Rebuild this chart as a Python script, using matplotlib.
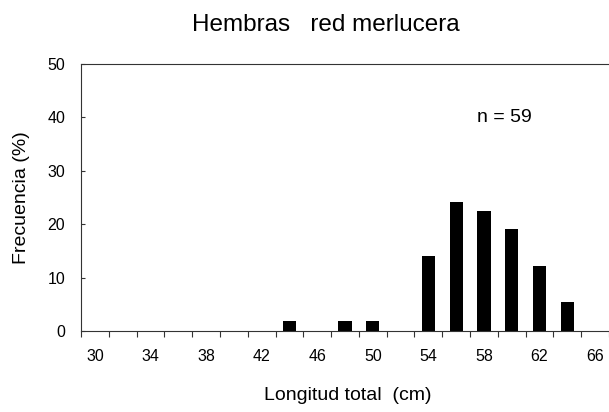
import matplotlib
matplotlib.use("Agg")
import matplotlib.pyplot as plt

# talla (cm) y frecuencia (%)
longitudes = [44, 48, 50, 54, 56, 58, 60, 62, 64]
frecuencia = [1.9, 1.9, 1.9, 14.0, 24.2, 22.5, 19.1, 12.2, 5.5]
x_labels = [30, 34, 38, 42, 46, 50, 54, 58, 62, 66]
x_minor = list(range(29, 68, 2))
y_ticks = [0, 10, 20, 30, 40, 50]

plt.rcParams['font.family'] = ['Liberation Sans', 'DejaVu Sans']

fig = plt.figure(figsize=(6.09, 4.12), dpi=100)
ax = fig.add_axes([81 / 609, 81 / 412, 528 / 609, 267 / 412])

ax.bar(longitudes, frecuencia, width=0.95, color='black')

ax.set_xlim(29, 66.8)
ax.set_ylim(0, 50)

ax.set_xticks(x_labels)
ax.set_xticklabels([str(v) for v in x_labels])
ax.set_xticks(x_minor, minor=True)
ax.tick_params(axis='x', which='major', length=0, pad=13, labelsize=11.5)
ax.tick_params(axis='x', which='minor', length=4, width=0.8, direction='out', color='#333333')

ax.set_yticks(y_ticks)
ax.tick_params(axis='y', which='major', length=3, width=0.8, direction='in', pad=11.5, labelsize=11.5,
               color='#333333')

for side in ['left', 'bottom', 'top']:
    ax.spines[side].set_linewidth(0.8)
    ax.spines[side].set_color('#333333')
ax.spines['right'].set_visible(False)

ax.set_xlabel("Longitud total  (cm)", fontsize=14, va='top')
ax.xaxis.set_label_coords(0.506, -0.21)
ax.set_ylabel("Frecuencia (%)", fontsize=14)
ax.yaxis.set_label_coords(-0.097, 0.5)

ax.text(57.5, 40, "n = 59", fontsize=14, va='center', ha='left')

fig.text(0.535, 0.939, "Hembras   red merlucera", fontsize=17.5, ha='center', va='center')

fig.savefig("out.png", dpi=100)
